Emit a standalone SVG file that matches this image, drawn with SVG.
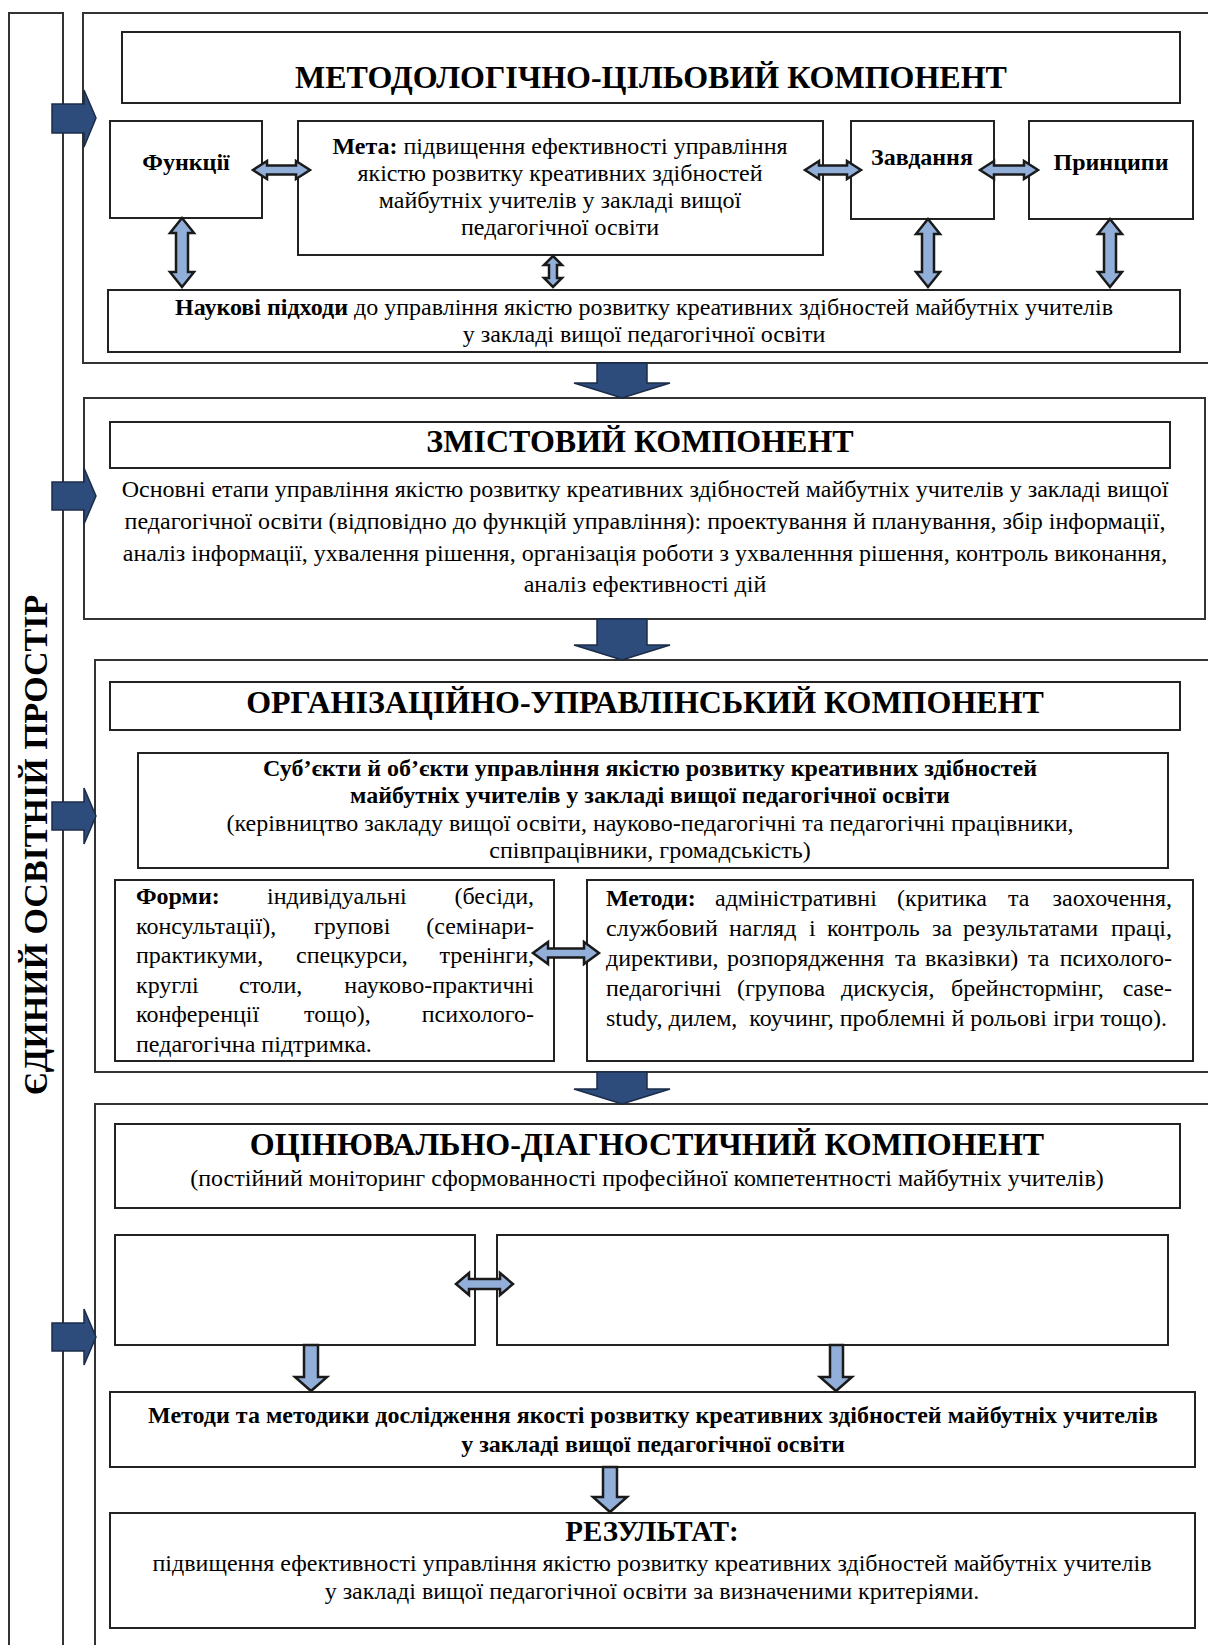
<svg xmlns="http://www.w3.org/2000/svg" width="1208" height="1645" viewBox="0 0 1208 1645">
<defs>
<style>
text{font-family:"Liberation Serif","Times New Roman",serif;fill:#000}
.t{font-size:32px;font-weight:bold;text-anchor:middle}
.b{font-size:24px;text-anchor:middle}
.bb{font-size:24px;font-weight:bold;text-anchor:middle}
.l{font-size:24px}
.e{text-anchor:end}
.hb{font-weight:bold}
.box{fill:#fff;stroke:#222;stroke-width:2}
.sec{fill:none;stroke:#333;stroke-width:2}
.dk{fill:#2d4c7b;stroke:#1b2c48;stroke-width:1.5}
.lt{fill:#92afd9;stroke:#1a1a1a;stroke-width:2.5;stroke-linejoin:miter}
</style>
</defs>
<rect width="1208" height="1645" fill="#fff"/>

<g id="strip">
<rect class="sec" x="9" y="13" width="54" height="1650"/>
<text transform="translate(47,845) rotate(-90)" style="font-size:34px;font-weight:bold;text-anchor:middle">ЄДИНИЙ ОСВІТНІЙ ПРОСТІР</text>
</g>

<g id="section1">
<rect class="sec" x="83" y="13" width="1140" height="350"/>
</g>
<g id="section2">
<rect class="sec" x="84" y="398" width="1121" height="221"/>
</g>
<g id="section3">
<rect class="sec" x="95" y="660" width="1130" height="412"/>
</g>
<g id="section4">
<rect class="sec" x="95" y="1104" width="1130" height="560"/>
</g>

<g id="title1">
<rect class="box" x="122" y="32" width="1058" height="71"/>
<text class="t" x="651" y="88">МЕТОДОЛОГІЧНО-ЦІЛЬОВИЙ КОМПОНЕНТ</text>
</g>
<g id="funktsii">
<rect class="box" x="110" y="121" width="152" height="97"/>
<text class="bb" x="186" y="170">Функції</text>
</g>
<g id="meta">
<rect class="box" x="298" y="121" width="525" height="134"/>
<text class="b" x="560" y="154"><tspan class="hb">Мета:</tspan> підвищення ефективності управління</text>
<text class="b" x="560" y="181">якістю розвитку креативних здібностей</text>
<text class="b" x="560" y="208">майбутніх учителів у закладі вищої</text>
<text class="b" x="560" y="235">педагогічної освіти</text>
</g>
<g id="zavdannia">
<rect class="box" x="851" y="121" width="143" height="98"/>
<text class="bb" x="922" y="165">Завдання</text>
</g>
<g id="pryntsypy">
<rect class="box" x="1029" y="121" width="164" height="98"/>
<text class="bb" x="1111" y="170">Принципи</text>
</g>
<g id="pidkhody">
<rect class="box" x="108" y="290" width="1072" height="62"/>
<text class="b" x="644" y="315"><tspan class="hb">Наукові підходи</tspan> до управління якістю розвитку креативних здібностей майбутніх учителів</text>
<text class="b" x="644" y="342">у закладі вищої педагогічної освіти</text>
</g>

<g id="title2">
<rect class="box" x="110" y="422" width="1060" height="46"/>
<text class="t" x="640" y="452">ЗМІСТОВИЙ КОМПОНЕНТ</text>
</g>
<g id="etapy">
<text class="b" x="645" y="497">Основні етапи управління якістю розвитку креативних здібностей майбутніх учителів у закладі вищої</text>
<text class="b" x="645" y="529">педагогічної освіти (відповідно до функцій управління): проектування й планування, збір інформації,</text>
<text class="b" x="645" y="561">аналіз інформації, ухвалення рішення, організація роботи з ухваленння рішення, контроль виконання,</text>
<text class="b" x="645" y="592">аналіз ефективності дій</text>
</g>

<g id="title3">
<rect class="box" x="110" y="682" width="1070" height="48"/>
<text class="t" x="645" y="713">ОРГАНІЗАЦІЙНО-УПРАВЛІНСЬКИЙ КОМПОНЕНТ</text>
</g>
<g id="subiekty">
<rect class="box" x="138" y="753" width="1030" height="115"/>
<text class="bb" x="650" y="776">Суб’єкти й об’єкти управління якістю розвитку креативних здібностей</text>
<text class="bb" x="650" y="803">майбутніх учителів у закладі вищої педагогічної освіти</text>
<text class="b" x="650" y="831">(керівництво закладу вищої освіти, науково-педагогічні та педагогічні працівники,</text>
<text class="b" x="650" y="858">співпрацівники, громадськість)</text>
</g>
<g id="formy">
<rect class="box" x="115" y="880" width="439" height="181"/>
<text class="l" y="904"><tspan x="136" class="hb">Форми:</tspan><tspan x="267">індивідуальні</tspan><tspan x="534" class="e">(бесіди,</tspan></text>
<text class="l" y="934"><tspan x="136">консультації),</tspan><tspan x="314">групові</tspan><tspan x="534" class="e">(семінари-</tspan></text>
<text class="l" y="963"><tspan x="136">практикуми,</tspan><tspan x="296">спецкурси,</tspan><tspan x="534" class="e">тренінги,</tspan></text>
<text class="l" y="993"><tspan x="136">круглі</tspan><tspan x="239">столи,</tspan><tspan x="534" class="e">науково-практичні</tspan></text>
<text class="l" y="1022"><tspan x="136">конференції</tspan><tspan x="304">тощо),</tspan><tspan x="534" class="e">психолого-</tspan></text>
<text class="l" y="1052"><tspan x="136">педагогічна підтримка.</tspan></text>
</g>
<g id="metody">
<rect class="box" x="587" y="880" width="606" height="181"/>
<text class="l" y="906"><tspan x="606" class="hb">Методи:</tspan><tspan x="715">адміністративні</tspan><tspan x="897">(критика</tspan><tspan x="1008">та</tspan><tspan x="1172" class="e">заохочення,</tspan></text>
<text class="l" y="936"><tspan x="606">службовий</tspan><tspan x="729">нагляд</tspan><tspan x="809">і</tspan><tspan x="827">контроль</tspan><tspan x="932">за</tspan><tspan x="963">результатами</tspan><tspan x="1172" class="e">праці,</tspan></text>
<text class="l" y="966"><tspan x="606">директиви,</tspan><tspan x="727">розпорядження</tspan><tspan x="895">та</tspan><tspan x="925">вказівки)</tspan><tspan x="1028">та</tspan><tspan x="1172" class="e">психолого-</tspan></text>
<text class="l" y="996"><tspan x="606">педагогічні</tspan><tspan x="737">(групова</tspan><tspan x="841">дискусія,</tspan><tspan x="951">брейнстормінг,</tspan><tspan x="1172" class="e">case-</tspan></text>
<text class="l" y="1026" xml:space="preserve"><tspan x="606">study, дилем,  коучинг, проблемні й рольові ігри тощо).</tspan></text>
</g>

<g id="title4">
<rect class="box" x="115" y="1124" width="1065" height="84"/>
<text class="t" x="647" y="1155">ОЦІНЮВАЛЬНО-ДІАГНОСТИЧНИЙ КОМПОНЕНТ</text>
<text class="b" x="647" y="1186">(постійний моніторинг сформованності професійної компетентності майбутніх учителів)</text>
</g>
<g id="empty-left">
<rect class="box" x="115" y="1235" width="360" height="110"/>
</g>
<g id="empty-right">
<rect class="box" x="497" y="1235" width="671" height="110"/>
</g>
<g id="metodyky">
<rect class="box" x="110" y="1392" width="1085" height="75"/>
<text class="bb" x="653" y="1423">Методи та методики дослідження якості розвитку креативних здібностей майбутніх учителів</text>
<text class="bb" x="653" y="1452">у закладі вищої педагогічної освіти</text>
</g>
<g id="rezultat">
<rect class="box" x="110" y="1513" width="1085" height="115"/>
<text x="652" y="1541" style="font-size:29px;font-weight:bold;text-anchor:middle">РЕЗУЛЬТАТ:</text>
<text class="b" x="652" y="1571">підвищення ефективності управління якістю розвитку креативних здібностей майбутніх учителів</text>
<text class="b" x="652" y="1599">у закладі вищої педагогічної освіти за визначеними критеріями.</text>
</g>

<g id="connectors">
<polygon class="dk" points="52,104 84,104 84,90 96,118 84,147 84,133 52,133"/>
<polygon class="dk" points="52,482 84,482 84,468 96,496 84,524 84,510 52,510"/>
<polygon class="dk" points="52,802 84,802 84,788 96,816 84,844 84,830 52,830"/>
<polygon class="dk" points="52,1323 84,1323 84,1309 96,1337 84,1365 84,1351 52,1351"/>
<polygon class="dk" points="597,363 647,363 647,383 670,383 622,398 574,383 597,383"/>
<polygon class="dk" points="597,619 647,619 647,645 670,645 622,660 574,645 597,645"/>
<polygon class="dk" points="597,1072 647,1072 647,1089 670,1089 622,1104 574,1089 597,1089"/>
<polygon class="lt" points="253,170 267,161 267,165.5 296,165.5 296,161 310,170 296,179 296,174.5 267,174.5 267,179"/>
<polygon class="lt" points="805,170 819,161 819,165.5 847,165.5 847,161 861,170 847,179 847,174.5 819,174.5 819,179"/>
<polygon class="lt" points="980,170 994,161 994,165.5 1024,165.5 1024,161 1038,170 1024,179 1024,174.5 994,174.5 994,179"/>
<polygon class="lt" points="182,218 194,233 188,233 188,272 194,272 182,287 170,272 176,272 176,233 170,233"/>
<polygon class="lt" points="553,256 562,265 557,265 557,278 562,278 553,287 544,278 549,278 549,265 544,265"/>
<polygon class="lt" points="928,219 940,234 934,234 934,272 940,272 928,287 916,272 922,272 922,234 916,234"/>
<polygon class="lt" points="1110,219 1122,234 1116,234 1116,272 1122,272 1110,287 1098,272 1104,272 1104,234 1098,234"/>
<polygon class="lt" points="533,953 548,942 548,948.5 584,948.5 584,942 599,953 584,964 584,957.5 548,957.5 548,964"/>
<polygon class="lt" points="456,1284 469,1273 469,1279 500,1279 500,1273 513,1284 500,1295 500,1289 469,1289 469,1295"/>
<polygon class="lt" points="304,1345 318,1345 318,1377 327,1377 311,1391 295,1377 304,1377"/>
<polygon class="lt" points="830,1345 843,1345 843,1377 852,1377 836,1391 820,1377 830,1377"/>
<polygon class="lt" points="603,1467 617,1467 617,1497 627,1497 610,1512 593,1497 603,1497"/>
</g>
</svg>
